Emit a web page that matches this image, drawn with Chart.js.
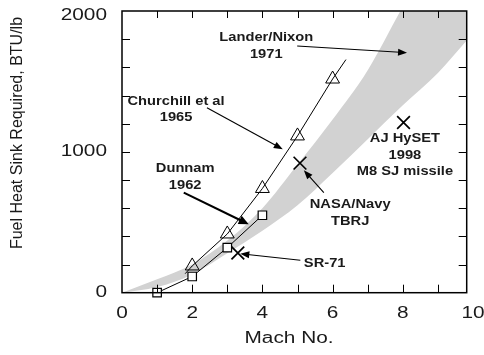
<!DOCTYPE html>
<html>
<head>
<meta charset="utf-8">
<script src="https://cdn.jsdelivr.net/npm/chart.js@4.4.0/dist/chart.umd.min.js"></script>
<style>
  html, body { margin: 0; padding: 0; background: #fff; }
</style>
</head>
<body>
<canvas id="heatChart" width="484" height="355"></canvas>
<script>
// grey band: range of fuel heat sink required
const bandLowMach = [0, 1, 2, 3, 4, 5, 6, 7, 8, 9, 9.82];
const bandLow = [0, 40, 130, 280, 440, 620, 850, 1090, 1330, 1560, 1790];
const bandHighMach = [0, 1, 2, 3, 4, 5, 6, 7, 7.93];
const bandHigh = [0, 95, 200, 370, 600, 910, 1230, 1580, 2000];

// Churchill et al 1965 / Lander-Nixon 1971 (triangles)
const triMach = [2, 3, 4, 5, 6];
const triHeat = [190, 417, 740, 1113, 1517];
const triLineMach = [1.8, 2, 3, 4, 5, 6, 6.38];
const triLineHeat = [135, 190, 417, 740, 1113, 1517, 1655];

// Dunnam 1962 (squares)
const sqMach = [1, 2, 3, 4];
const sqHeat = [0, 115, 320, 550];

// single vehicles: SR-71, NASA/Navy TBRJ, AJ HySET
const vehMach = [3.3, 5.07, 8.02];
const vehHeat = [282, 920, 1208];

const xTickLabels = [0, 2, 4, 6, 8, 10];
const yTickLabels = [0, 1000, 2000];

// text notes with arrows, in chart units
const notes = [
    { lines: ['Lander/Nixon', '1971'], at: [4.11, 1810], arrow: [[4.99, 1751], [8.12, 1704]] },
    { lines: ['Churchill et al', '1965'], at: [1.54, 1361], arrow: [[2.42, 1313], [4.58, 1018]] },
    { lines: ['Dunnam', '1962'], at: [1.8, 883], arrow: [[1.76, 710], [3.61, 486]], thick: true },
    { lines: ['SR-71'], at: [5.18, 206], align: 'left', arrow: [[5.08, 230], [3.37, 277]] },
    { lines: ['NASA/Navy', 'TBRJ'], at: [6.5, 628], arrow: [[5.75, 710], [5.18, 869]] },
    { lines: ['AJ HySET', '1998', 'M8 SJ missile'], at: [8.06, 1096] }
];

const FONT = "'Liberation Sans', Arial, sans-serif";
const INK = '#1a1a1a';

function pts(xs, ys) {
    return xs.map((x, i) => ({ x: x, y: ys[i] }));
}

function wideText(ctx, text, x, y, align, sx) {
    ctx.save();
    ctx.translate(x, y);
    ctx.scale(sx, 1);
    ctx.textAlign = align;
    ctx.fillText(text, 0, 0);
    ctx.restore();
}

function arrow(ctx, x1, y1, x2, y2, lw, head, half) {
    const a = Math.atan2(y2 - y1, x2 - x1);
    const c = Math.cos(a), s = Math.sin(a);
    ctx.lineWidth = lw;
    ctx.beginPath();
    ctx.moveTo(x1, y1);
    ctx.lineTo(x2 - c * head * 0.8, y2 - s * head * 0.8);
    ctx.stroke();
    ctx.beginPath();
    ctx.moveTo(x2, y2);
    ctx.lineTo(x2 - c * head + s * half, y2 - s * head - c * half);
    ctx.lineTo(x2 - c * head - s * half, y2 - s * head + c * half);
    ctx.closePath();
    ctx.fill();
}

// frame, inward ticks, tick labels, titles and notes
const decorations = {
    id: 'decorations',
    afterDatasetsDraw(chart) {
        const ctx = chart.ctx;
        const area = chart.chartArea;
        const xs = chart.scales.x, ys = chart.scales.y;
        ctx.save();
        ctx.strokeStyle = '#000';
        ctx.fillStyle = INK;

        // ticks
        ctx.lineWidth = 1;
        ctx.beginPath();
        for (let v = 200; v < 2000; v += 200) {
            const py = Math.round(ys.getPixelForValue(v)) + 0.5;
            ctx.moveTo(area.left, py); ctx.lineTo(area.left + 8, py);
            ctx.moveTo(area.right, py); ctx.lineTo(area.right - 8, py);
        }
        for (let v = 1; v <= 9; v++) {
            const px = Math.round(xs.getPixelForValue(v)) + 0.5;
            ctx.moveTo(px, area.bottom); ctx.lineTo(px, area.bottom - 8);
            ctx.moveTo(px, area.top); ctx.lineTo(px, area.top + 7);
        }
        ctx.stroke();

        // frame
        ctx.lineWidth = 1.5;
        ctx.strokeRect(area.left, area.top, area.right - area.left, area.bottom - area.top);

        // tick labels
        ctx.font = '16px ' + FONT;
        ctx.textBaseline = 'middle';
        yTickLabels.forEach(v => {
            const py = Math.max(ys.getPixelForValue(v), 16);
            wideText(ctx, String(v), 107, py, 'right', 1.3);
        });
        xTickLabels.forEach(v => {
            wideText(ctx, String(v), xs.getPixelForValue(v), 314, 'center', 1.3);
        });

        // axis titles
        wideText(ctx, 'Mach No.', 289, 339, 'center', 1.3);
        ctx.save();
        ctx.translate(17.5, 133);
        ctx.rotate(-Math.PI / 2);
        ctx.textAlign = 'center';
        ctx.fillText('Fuel Heat Sink Required, BTU/lb', 0, 0);
        ctx.restore();

        // notes
        ctx.font = 'bold 13px ' + FONT;
        notes.forEach(n => {
            const px = xs.getPixelForValue(n.at[0]);
            const py = ys.getPixelForValue(n.at[1]);
            n.lines.forEach((line, i) => {
                wideText(ctx, line, px, py + i * 16.7, n.align || 'center', 1.13);
            });
            if (n.arrow) {
                const [p, q] = n.arrow;
                ctx.fillStyle = '#000';
                arrow(ctx,
                    xs.getPixelForValue(p[0]), ys.getPixelForValue(p[1]),
                    xs.getPixelForValue(q[0]), ys.getPixelForValue(q[1]),
                    n.thick ? 2 : 1.1, n.thick ? 10 : 9, n.thick ? 4.5 : 3.5);
                ctx.fillStyle = INK;
            }
        });
        ctx.restore();
    }
};

document.addEventListener('DOMContentLoaded', function () {
    new Chart(document.getElementById('heatChart').getContext('2d'), {
        type: 'line',
        data: {
            datasets: [{
                // grey from the lower edge up to the top
                data: pts(bandLowMach, bandLow),
                borderColor: 'transparent',
                borderWidth: 0,
                pointRadius: 0,
                cubicInterpolationMode: 'monotone',
                backgroundColor: '#d2d2d2',
                fill: 'end',
                order: 10
            }, {
                // white above the upper edge
                data: pts(bandHighMach, bandHigh),
                borderColor: 'transparent',
                borderWidth: 0,
                pointRadius: 0,
                cubicInterpolationMode: 'monotone',
                backgroundColor: '#fff',
                fill: 'end',
                order: 9
            }, {
                data: pts(triLineMach, triLineHeat),
                borderColor: '#000',
                borderWidth: 1,
                pointRadius: 0,
                order: 3
            }, {
                data: pts(triMach, triHeat),
                showLine: false,
                pointStyle: 'triangle',
                pointRadius: 8,
                pointBorderColor: '#000',
                pointBackgroundColor: 'rgba(255,255,255,0)',
                pointBorderWidth: 1,
                clip: false,
                order: 2
            }, {
                data: pts(sqMach, sqHeat),
                borderColor: '#000',
                borderWidth: 1,
                pointStyle: 'rect',
                pointRadius: 6,
                pointBorderColor: '#000',
                pointBackgroundColor: '#fff',
                pointBorderWidth: 1.2,
                clip: false,
                order: 2
            }, {
                data: pts(vehMach, vehHeat),
                showLine: false,
                pointStyle: 'crossRot',
                pointRadius: 9,
                pointBorderColor: '#000',
                pointBorderWidth: 1.7,
                clip: false,
                order: 1
            }]
        },
        options: {
            responsive: false,
            animation: false,
            layout: { padding: { top: 11, right: 17.3, left: 0, bottom: 0 } },
            plugins: {
                legend: { display: false },
                tooltip: { enabled: false }
            },
            scales: {
                x: {
                    type: 'linear',
                    min: 0,
                    max: 9.82,
                    grid: { display: false },
                    border: { display: false },
                    ticks: { display: false },
                    afterFit: s => { s.height = 62.3; }
                },
                y: {
                    min: 0,
                    max: 2000,
                    grid: { display: false },
                    border: { display: false },
                    ticks: { display: false },
                    afterFit: s => { s.width = 122; }
                }
            }
        },
        plugins: [decorations]
    });
});
</script>
</body>
</html>
